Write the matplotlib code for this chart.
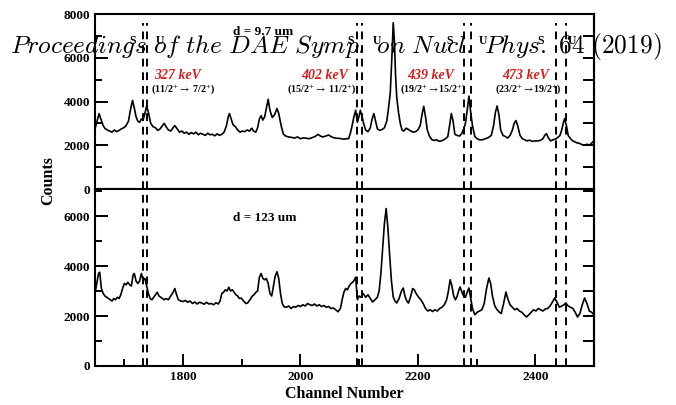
import matplotlib
matplotlib.use("Agg")
import matplotlib.pyplot as plt
import numpy as np

# spectrum for d = 9.7 um (top)
top_ch = [1650, 1654, 1657, 1660, 1664, 1667, 1671, 1675, 1679, 1683, 1687, 1691, 1695, 1699, 1703, 1707,
          1711, 1714, 1717, 1720, 1723, 1726, 1729, 1732, 1735, 1738, 1741, 1745, 1749, 1753, 1757, 1761,
          1765, 1768, 1771, 1775, 1779, 1783, 1786, 1790, 1794, 1798, 1802, 1806, 1810, 1814, 1818, 1822,
          1826, 1830, 1834, 1838, 1842, 1846, 1850, 1854, 1858, 1862, 1866, 1870, 1874, 1877, 1879, 1882,
          1885, 1889, 1893, 1897, 1901, 1905, 1909, 1913, 1917, 1920, 1924, 1927, 1930, 1933, 1936, 1939,
          1942, 1945, 1948, 1952, 1956, 1960, 1963, 1967, 1971, 1975, 1980, 1985, 1990, 1995, 2000, 2005,
          2010, 2015, 2020, 2025, 2030, 2034, 2038, 2043, 2048, 2052, 2056, 2061, 2065, 2070, 2074, 2078,
          2082, 2085, 2088, 2091, 2094, 2097, 2100, 2102, 2105, 2108, 2111, 2115, 2119, 2122, 2125, 2128,
          2131, 2135, 2139, 2143, 2147, 2150, 2153, 2156, 2158, 2160, 2162, 2164, 2167, 2170, 2173, 2176,
          2180, 2184, 2188, 2192, 2196, 2200, 2204, 2207, 2210, 2213, 2216, 2220, 2224, 2228, 2232, 2236,
          2240, 2244, 2248, 2251, 2254, 2257, 2260, 2263, 2267, 2271, 2275, 2278, 2281, 2284, 2287, 2290,
          2293, 2297, 2301, 2305, 2310, 2315, 2320, 2325, 2329, 2332, 2335, 2338, 2341, 2345, 2349, 2353,
          2357, 2361, 2364, 2367, 2370, 2374, 2378, 2382, 2386, 2390, 2395, 2400, 2405, 2409, 2413, 2416,
          2419, 2422, 2426, 2430, 2434, 2438, 2442, 2445, 2448, 2450, 2453, 2456, 2460, 2464, 2468, 2472,
          2476, 2480, 2484, 2488, 2492, 2496, 2500]
top_cnt = [2750, 3150, 3450, 3200, 2900, 2770, 2700, 2650, 2600, 2700, 2620, 2680, 2750, 2800, 2900, 3100,
           3700, 4050, 3700, 3300, 3100, 3050, 3200, 3150, 3450, 3800, 3500, 3000, 2850, 2800, 2680, 2750,
           2900, 3000, 2850, 2700, 2650, 2800, 2900, 2750, 2600, 2650, 2550, 2600, 2500, 2580, 2520, 2600,
           2480, 2550, 2500, 2450, 2550, 2480, 2500, 2430, 2520, 2450, 2500, 2600, 2900, 3300, 3450, 3200,
           2950, 2850, 2700, 2600, 2650, 2620, 2700, 2650, 2780, 2650, 2600, 2800, 3200, 3350, 3150, 3300,
           3700, 4100, 3600, 3270, 3400, 3680, 3450, 2910, 2500, 2420, 2380, 2360, 2330, 2380, 2300, 2340,
           2320, 2300, 2350, 2400, 2500, 2420, 2380, 2420, 2470, 2400, 2350, 2320, 2320, 2300, 2280, 2300,
           2300, 2550, 2900, 3300, 3600, 3050, 3350, 3600, 3300, 2950, 2700, 2620, 2800, 3200, 3450, 3100,
           2750, 2680, 2720, 2800, 3100, 3700, 4400, 6200, 7600, 6800, 5200, 4200, 3500, 3000, 2700, 2650,
           2780, 2720, 2650, 2600, 2620, 2700, 2900, 3400, 3780, 3300, 2700, 2400, 2250, 2220, 2250, 2180,
           2200, 2250, 2320, 2400, 2900, 3450, 3100, 2500, 2450, 2420, 2550, 2750, 3000, 3600, 4250, 3500,
           2900, 2400, 2300, 2250, 2250, 2300, 2350, 2450, 2900, 3500, 3800, 3400, 2700, 2450, 2400, 2330,
           2450, 2700, 3000, 3130, 2900, 2450, 2300, 2250, 2200, 2230, 2180, 2200, 2200, 2230, 2300, 2450,
           2530, 2350, 2200, 2250, 2280, 2350, 2450, 2700, 3050, 3220, 2900, 2450, 2300, 2200, 2150, 2100,
           2080, 2020, 2000, 2050, 2000, 2100, 2200]

# spectrum for d = 123 um (bottom)
bot_ch = [1650, 1653, 1656, 1658, 1661, 1664, 1667, 1670, 1673, 1676, 1679, 1682, 1685, 1688, 1691, 1694,
          1697, 1700, 1703, 1706, 1709, 1712, 1715, 1717, 1720, 1723, 1726, 1729, 1732, 1735, 1738, 1741,
          1744, 1747, 1750, 1753, 1756, 1759, 1762, 1765, 1768, 1771, 1775, 1779, 1783, 1786, 1789, 1792,
          1796, 1800, 1804, 1808, 1812, 1816, 1820, 1824, 1828, 1832, 1836, 1840, 1844, 1848, 1852, 1856,
          1860, 1863, 1866, 1869, 1872, 1875, 1878, 1881, 1884, 1887, 1890, 1893, 1896, 1899, 1903, 1907,
          1910, 1914, 1918, 1921, 1924, 1927, 1930, 1933, 1936, 1939, 1942, 1945, 1948, 1951, 1954, 1957,
          1960, 1963, 1966, 1969, 1972, 1976, 1980, 1984, 1988, 1992, 1996, 2000, 2004, 2008, 2012, 2016,
          2020, 2024, 2028, 2032, 2036, 2040, 2044, 2048, 2052, 2056, 2060, 2064, 2068, 2071, 2074, 2077,
          2080, 2083, 2086, 2089, 2092, 2094, 2097, 2100, 2103, 2107, 2111, 2115, 2119, 2123, 2127, 2131,
          2134, 2137, 2140, 2143, 2146, 2149, 2152, 2155, 2158, 2161, 2164, 2168, 2172, 2175, 2178, 2181,
          2184, 2188, 2191, 2194, 2197, 2201, 2205, 2209, 2213, 2217, 2221, 2225, 2229, 2233, 2237, 2241,
          2245, 2249, 2252, 2255, 2258, 2261, 2264, 2267, 2270, 2272, 2275, 2278, 2281, 2284, 2287, 2290,
          2293, 2297, 2301, 2305, 2309, 2313, 2317, 2321, 2324, 2327, 2331, 2335, 2339, 2342, 2346, 2350,
          2353, 2357, 2361, 2365, 2369, 2373, 2377, 2381, 2385, 2389, 2393, 2397, 2401, 2405, 2409, 2413,
          2417, 2421, 2425, 2429, 2433, 2437, 2441, 2445, 2449, 2452, 2456, 2460, 2464, 2468, 2472, 2476,
          2480, 2484, 2488, 2492, 2496, 2500]
bot_cnt = [2900, 3300, 3700, 3750, 3100, 2900, 2800, 2750, 2700, 2650, 2600, 2700, 2650, 2750, 2700, 2850,
           3100, 3300, 3250, 3350, 3250, 3200, 3650, 3700, 3400, 3300, 3400, 3700, 3450, 3500, 3200, 2900,
           2700, 2650, 2750, 2850, 2950, 2800, 2750, 2700, 2650, 2700, 2650, 2800, 2950, 3100, 2850, 2650,
           2600, 2580, 2620, 2550, 2600, 2500, 2560, 2480, 2550, 2520, 2470, 2550, 2480, 2500, 2450, 2530,
           2480, 2600, 2900, 2950, 3050, 3000, 3150, 3000, 3050, 2950, 2850, 2800, 2700, 2720, 2600, 2500,
           2520, 2650, 2800, 2850, 2950, 3000, 3550, 3700, 3500, 3450, 3500, 3300, 2900, 2800, 3200, 3600,
           3770, 3500, 2900, 2500, 2370, 2350, 2400, 2300, 2380, 2350, 2420, 2380, 2450, 2400, 2500, 2450,
           2420, 2480, 2400, 2450, 2380, 2420, 2350, 2380, 2300, 2320, 2250, 2170, 2300, 2650, 2950, 3100,
           3050, 3200, 3300, 3350, 3450, 3550, 2650, 2800, 2750, 2900, 2750, 2850, 2700, 2560, 2650, 2750,
           3000, 3700, 4700, 5700, 6300, 5500, 4400, 3400, 2760, 2600, 2520, 2700, 3000, 3120, 2800, 2600,
           2520, 2800, 3100, 3050, 2900, 2760, 2650, 2500, 2300, 2200, 2250, 2180, 2250, 2200, 2300, 2350,
           2450, 2650, 3000, 3450, 3200, 2800, 2650, 2800, 3050, 3160, 2950, 2800, 2750, 2950, 3120, 2700,
           2300, 2050, 2150, 2200, 2250, 2500, 3100, 3520, 3300, 2800, 2400, 2250, 2150, 2100, 2500, 2960,
           2700, 2450, 2350, 2250, 2300, 2200, 2150, 2050, 1960, 2050, 2150, 2250, 2200, 2300, 2250, 2200,
           2280, 2300, 2400, 2550, 2720, 2550, 2350, 2400, 2450, 2520, 2400, 2350, 2300, 2150, 1960, 2100,
           2450, 2720, 2500, 2200, 2150, 2050]

# gate lines (S = start, U = end)
s_lines = [1731, 2096, 2279, 2436]
u_lines = [1738, 2105, 2291, 2453]
s_lab_x = [1714, 2086, 2255, 2409]
u_lab_x = [1760, 2130, 2311, 2463]

energies = ["327 keV", "402 keV", "439 keV", "473 keV"]
energy_x = [1791, 2041, 2221, 2384]
trans = [r"(11/2$^{+}$$\rightarrow$ 7/2$^{+}$)", r"(15/2$^{+}$$\rightarrow$ 11/2$^{+}$)",
         r"(19/2$^{+}$$\rightarrow$15/2$^{+}$)", r"(23/2$^{+}$$\rightarrow$19/2$^{+}$)"]
trans_x = [1801, 2036, 2226, 2389]

serif = "Liberation Serif"

fig = plt.figure(figsize=(6.76, 4.05), dpi=100)
ax1 = fig.add_axes([0.1405, 0.5333, 0.7382, 0.4321])
ax2 = fig.add_axes([0.1405, 0.0963, 0.7382, 0.4370])

ax1.plot(top_ch, top_cnt, color="black", lw=1.2)
ax2.plot(bot_ch, bot_cnt, color="black", lw=1.2)

ax1.set_ylim(0, 8000)
ax2.set_ylim(0, 7080)
for ax in (ax1, ax2):
    ax.set_xlim(1650, 2500)
    for s in ax.spines.values():
        s.set_linewidth(1.5)
    for x in s_lines + u_lines:
        if ax is ax1:
            ax.axvline(x, ymax=0.95, color="black", lw=1.4, ls=(0, (4, 3)))
        else:
            ax.axvline(x, color="black", lw=1.4, ls=(0, (4, 3)))
    ax.set_xticks([1800, 2000, 2200, 2400])
    ax.set_xticks([1700, 1900, 2100, 2300], minor=True)
    ax.set_yticks(np.arange(0, 8001 if ax is ax1 else 7001, 2000))
    ax.set_yticks(np.arange(1000, 8000 if ax is ax1 else 7001, 2000), minor=True)
    ax.tick_params(which="both", direction="in", right=False, top=False, width=1.4)
    ax.tick_params(which="major", length=9)
    ax.tick_params(which="minor", length=5)
    for lab in ax.get_yticklabels():
        lab.set_fontfamily(serif)
        lab.set_fontweight("bold")
        lab.set_fontsize(9.5)
    # right side: uniform ticks every 1000, no labels
    sec = ax.secondary_yaxis("right")
    sec.set_yticks(np.arange(0, 8001, 1000))
    sec.tick_params(direction="in", length=8, width=1.4, labelright=False)
    sec.spines["right"].set_linewidth(1.5)

ax1.tick_params(axis="x", which="both", direction="out", labelbottom=False)
for lab in ax2.get_xticklabels():
    lab.set_fontfamily(serif)
    lab.set_fontweight("bold")
    lab.set_fontsize(9.5)

ax2.set_xlabel("Channel Number", fontfamily=serif, fontweight="bold", fontsize=11.5, labelpad=2)
fig.text(0.072, 0.555, "Counts", rotation=90, fontfamily=serif, fontweight="bold",
         fontsize=11.5, ha="center", va="center")

ax1.text(1936, 7180, "d = 9.7 um", fontfamily=serif, fontweight="bold", fontsize=9.5,
         ha="center", va="center")
ax2.text(1940, 5920, "d = 123 um", fontfamily=serif, fontweight="bold", fontsize=9.5,
         ha="center", va="center")

for x in s_lab_x:
    ax1.text(x, 6750, "S", fontfamily=serif, fontweight="bold", fontsize=8.5, ha="center", va="center")
for x in u_lab_x:
    ax1.text(x, 6750, "U", fontfamily=serif, fontweight="bold", fontsize=8.5, ha="center", va="center")

for e, x in zip(energies, energy_x):
    ax1.text(x, 5180, e, color="#d81e1e", fontfamily=serif, fontweight="bold", fontstyle="italic",
             fontsize=10, ha="center", va="center")
for t, x in zip(trans, trans_x):
    ax1.text(x, 4545, t, fontfamily=serif, fontweight="bold", fontsize=7.2, ha="center",
             va="center", math_fontfamily="stix")

fig.text(10 / 676, 1 - 53 / 405,
         r"$\mathit{Proceedings\ of\ the\ DAE\ Symp.\ on\ Nucl.\ Phys.\ 64\ (2019)}$",
         fontsize=18.3, ha="left", va="baseline", math_fontfamily="cm")

fig.savefig("out.png", dpi=100)
